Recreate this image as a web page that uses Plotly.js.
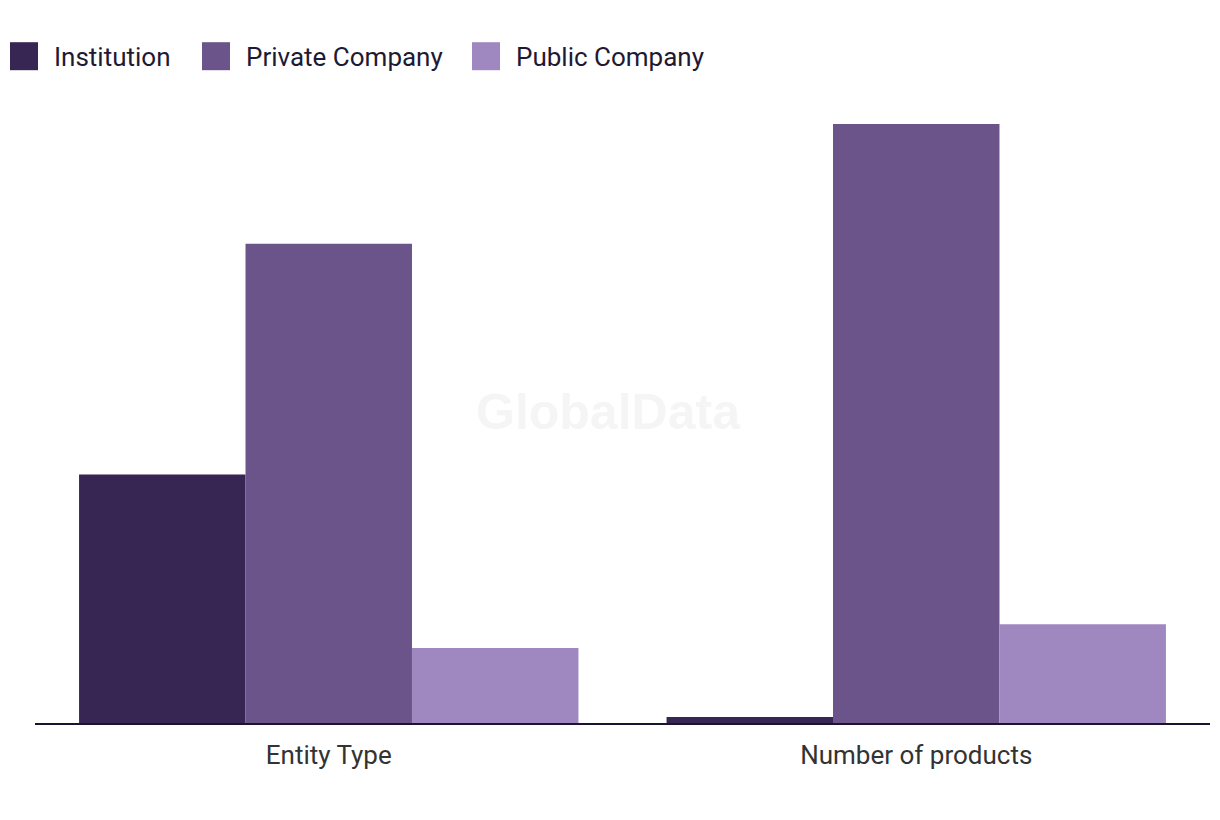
<!DOCTYPE html>
<html>
<head>
<meta charset="utf-8">
<script src="https://cdn.plot.ly/plotly-3.0.1.min.js"></script>
<style>html,body{margin:0;padding:0;background:#fff;} #chart{width:1220px;height:820px;}</style>
</head>
<body>
<div id="chart"></div>
<script>
const categories = ["Entity Type", "Number of products"];
const seriesNames = ["Institution", "Private Company", "Public Company"];
const institution = [83, 2];
const privateCompany = [160, 200];
const publicCompany = [25, 33];
const colors = ["#372554", "#6a5489", "#9f87c0"];

const values = [institution, privateCompany, publicCompany];
const traces = seriesNames.map((name, i) => ({
  type: "bar",
  name: name,
  x: categories,
  y: values[i],
  marker: {color: colors[i], line: {width: 0}},
  hoverinfo: "x+y+name"
}));

const layout = {
  width: 1220, height: 820,
  margin: {l: 35, r: 10, t: 100, b: 97},
  paper_bgcolor: "#ffffff", plot_bgcolor: "#ffffff",
  barmode: "group", bargap: 0.15, bargroupgap: 0,
  font: {family: "Roboto, 'Liberation Sans', sans-serif", size: 26, color: "#1f1a33"},
  showlegend: true,
  legend: {orientation: "h", x: 0, xanchor: "left", y: 0.96, yanchor: "top",
    xref: "paper", yref: "container", font: {size: 26, color: "#1f1a33"},
    bgcolor: "rgba(0,0,0,0)", itemwidth: 30, tracegroupgap: 0},
  xaxis: {showgrid: false, zeroline: false, showline: true, linecolor: "#1a1433", linewidth: 2,
    ticks: "", ticklabelstandoff: 8, tickfont: {size: 26, color: "#333333"}, fixedrange: true},
  yaxis: {range: [0, 208], showgrid: false, zeroline: false, showline: false, showticklabels: false, fixedrange: true},
  annotations: [{text: "<b>GlobalData</b>", xref: "paper", yref: "paper", x: 0.488, y: 0.5, showarrow: false,
    font: {size: 50, color: "#f5f5f5", family: "'Liberation Sans', Arial, sans-serif"}}]
};

// legend square left edges (px) to mimic the reference's legend spacing
const legendSquareLeft = [10, 202, 472];

Plotly.newPlot("chart", traces, layout, {displayModeBar: false, staticPlot: true}).then(() => {
  document.querySelectorAll(".legend [clip-path], .legend").forEach(el => el.removeAttribute("clip-path"));
  const groups = document.querySelectorAll(".legend .traces");
  groups.forEach((g, i) => {
    const p = g.querySelector(".legendpoints path");
    if (p) p.setAttribute("d", "M4,14H-24V-14H4Z");
    const m = /translate\(\s*([-\d.]+)[ ,]+([-\d.]+)\s*\)/.exec(g.getAttribute("transform") || "");
    if (!m || !p) return;
    const left = p.getBoundingClientRect().left;
    const dx = legendSquareLeft[i] - left;
    g.setAttribute("transform", "translate(" + (parseFloat(m[1]) + dx) + "," + m[2] + ")");
  });
});
</script>
</body>
</html>
